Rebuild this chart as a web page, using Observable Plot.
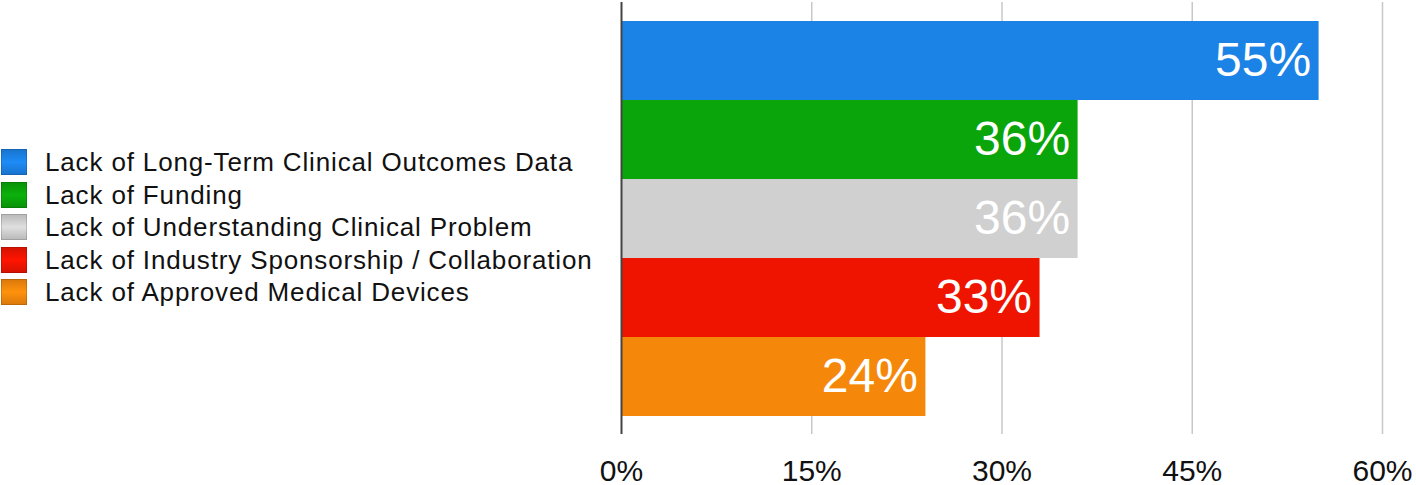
<!DOCTYPE html>
<html>
<head>
<meta charset="utf-8">
<script src="https://cdn.jsdelivr.net/npm/d3@7"></script>
<script src="https://cdn.jsdelivr.net/npm/@observablehq/plot@0.6"></script>
<style>
  html, body { margin: 0; padding: 0; background: #fff; }
  #wrap { position: relative; width: 1416px; height: 485px; font-family: "Liberation Sans", Helvetica, Arial, sans-serif; }
  #legend { position: absolute; left: 1px; top: 149px; }
  .row { display: flex; align-items: center; height: 26px; margin-bottom: 6.5px; }
  .sw { width: 24px; height: 24px; border: 1px solid rgba(0,0,0,0.15); box-sizing: content-box; }
  .lab { margin-left: 18px; font-size: 26px; letter-spacing: 0.85px; color: #111; white-space: nowrap; line-height: 26px; }
</style>
</head>
<body>
<div id="wrap">
  <div id="chart"></div>
  <div id="legend"></div>
</div>
<script>
const categories = [
  "Lack of Long-Term Clinical Outcomes Data",
  "Lack of Funding",
  "Lack of Understanding Clinical Problem",
  "Lack of Industry Sponsorship / Collaboration",
  "Lack of Approved Medical Devices"
];
const values = [55, 36, 36, 33, 24];
const colors = ["#1b82e6", "#0aa50a", "#d0d0d0", "#ee1400", "#f5880b"];
const xTicks = [0, 15, 30, 45, 60];

const data = categories.map((c, i) => ({category: c, value: values[i], color: colors[i]}));

const chart = Plot.plot({
  width: 1416,
  height: 485,
  marginLeft: 621,
  marginRight: 34,
  marginTop: 2,
  marginBottom: 51,
  style: {fontFamily: "'Liberation Sans', Helvetica, Arial, sans-serif", fontSize: "30px", color: "#111", background: "#fff", overflow: "visible"},
  x: {domain: [0, 60], ticks: xTicks, tickFormat: d => d + "%", label: null},
  y: {domain: categories, paddingInner: 0, paddingOuter: 0.22, axis: null},
  marks: [
    Plot.gridX(xTicks.filter(d => d > 0), {stroke: "#c8c8c8", strokeOpacity: 1, strokeWidth: 1.5}),
    Plot.barX(data, {x: "value", y: "category", fill: "color"}),
    Plot.ruleX([0], {stroke: "#444", strokeWidth: 2}),
    Plot.text(data, {x: "value", y: "category", text: d => d.value + "%", textAnchor: "end", dx: -8, fill: "white", fontSize: 48, style: "letter-spacing:1px"}),
    Plot.axisX(xTicks, {tickSize: 0, tickPadding: 25, tickFormat: d => d + "%", fill: "#111", label: null, style: "letter-spacing:0.5px"})
  ]
});
document.getElementById("chart").appendChild(chart);

const legend = document.getElementById("legend");
categories.forEach((c, i) => {
  const row = document.createElement("div");
  row.className = "row";
  const sw = document.createElement("div");
  sw.className = "sw";
  const col = d3.color(colors[i]);
  sw.style.background = `linear-gradient(to bottom, ${col.darker(0.3)}, ${col.brighter(0.2)} 50%, ${col.darker(0.3)})`;
  const lab = document.createElement("div");
  lab.className = "lab";
  lab.textContent = c;
  row.appendChild(sw);
  row.appendChild(lab);
  legend.appendChild(row);
});
</script>
</body>
</html>
